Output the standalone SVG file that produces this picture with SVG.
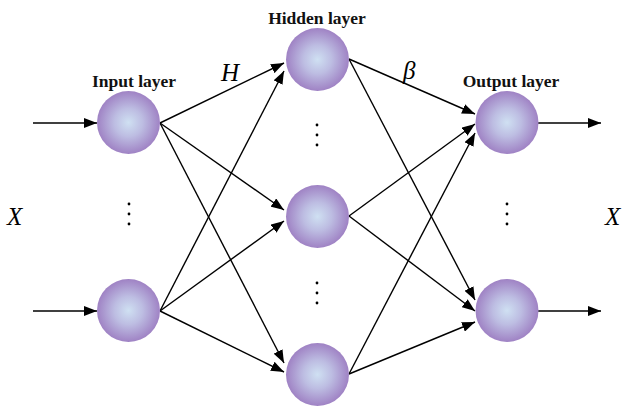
<svg xmlns="http://www.w3.org/2000/svg" width="623" height="408" viewBox="0 0 623 408">
<style>
.c{stroke:#000;stroke-width:1.4;fill:none;marker-end:url(#ah)}
.n{fill:url(#g)}
.lbl{font-family:"Liberation Serif",serif;font-weight:bold;font-size:17.5px;text-anchor:middle;fill:#111}
.v{font-family:"Liberation Serif",serif;font-style:italic;font-size:25px;fill:#000}
.d{fill:#000}
</style>
<defs>
<radialGradient id="g" cx="0.5" cy="0.5" r="0.5">
<stop offset="0" stop-color="#cfe0f2"/>
<stop offset="0.45" stop-color="#bdbde2"/>
<stop offset="1" stop-color="#9f82c4"/>
</radialGradient>
<marker id="ah" markerUnits="userSpaceOnUse" markerWidth="14" markerHeight="10" refX="13" refY="5" orient="auto">
<path d="M0,0 L13,5 L0,10 z" fill="#000"/>
</marker>
</defs>
<g id="connectors">
<line class="c" x1="33" y1="123" x2="97" y2="123"/>
<line class="c" x1="33" y1="311" x2="97" y2="311"/>
<line class="c" x1="160" y1="123" x2="284" y2="63"/>
<line class="c" x1="160" y1="123" x2="284" y2="210"/>
<line class="c" x1="160" y1="123" x2="284" y2="363"/>
<line class="c" x1="160" y1="311" x2="284" y2="71"/>
<line class="c" x1="160" y1="311" x2="284" y2="221"/>
<line class="c" x1="160" y1="311" x2="284" y2="372"/>
<line class="c" x1="349" y1="59" x2="475" y2="114"/>
<line class="c" x1="349" y1="59" x2="475" y2="300"/>
<line class="c" x1="349" y1="216" x2="475" y2="124"/>
<line class="c" x1="349" y1="216" x2="475" y2="311"/>
<line class="c" x1="349" y1="374" x2="475" y2="133"/>
<line class="c" x1="349" y1="374" x2="475" y2="322"/>
<line class="c" x1="538" y1="123" x2="601" y2="123"/>
<line class="c" x1="538" y1="311" x2="601" y2="311"/>
</g>
<g id="input1"><circle class="n" cx="128.5" cy="122.5" r="31.5"/></g>
<g id="input2"><circle class="n" cx="128.5" cy="310.5" r="31.5"/></g>
<g id="hidden1"><circle class="n" cx="317.5" cy="59.5" r="31.5"/></g>
<g id="hidden2"><circle class="n" cx="317.5" cy="216.5" r="31.5"/></g>
<g id="hidden3"><circle class="n" cx="317.5" cy="374.5" r="31.5"/></g>
<g id="output1"><circle class="n" cx="507" cy="122.5" r="31.5"/></g>
<g id="output2"><circle class="n" cx="507" cy="310.5" r="31.5"/></g>
<g id="labels">
<text class="lbl" x="134" y="87">Input layer</text>
<text class="lbl" x="317" y="24">Hidden layer</text>
<text class="lbl" x="511" y="87">Output layer</text>
<text class="v" x="221" y="81" font-size="23">H</text>
<text class="v" x="403" y="79" font-size="23">β</text>
<text class="v" x="7" y="225">X</text>
<text class="v" x="605" y="225">X</text>
</g>
<g id="dots">
<circle class="d" cx="129" cy="204" r="1.4"/><circle class="d" cx="129" cy="214" r="1.4"/><circle class="d" cx="129" cy="224" r="1.4"/>
<circle class="d" cx="317" cy="125" r="1.4"/><circle class="d" cx="317" cy="135" r="1.4"/><circle class="d" cx="317" cy="145" r="1.4"/>
<circle class="d" cx="317" cy="283" r="1.4"/><circle class="d" cx="317" cy="293" r="1.4"/><circle class="d" cx="317" cy="303" r="1.4"/>
<circle class="d" cx="507" cy="204" r="1.4"/><circle class="d" cx="507" cy="214" r="1.4"/><circle class="d" cx="507" cy="224" r="1.4"/>
</g>
</svg>
